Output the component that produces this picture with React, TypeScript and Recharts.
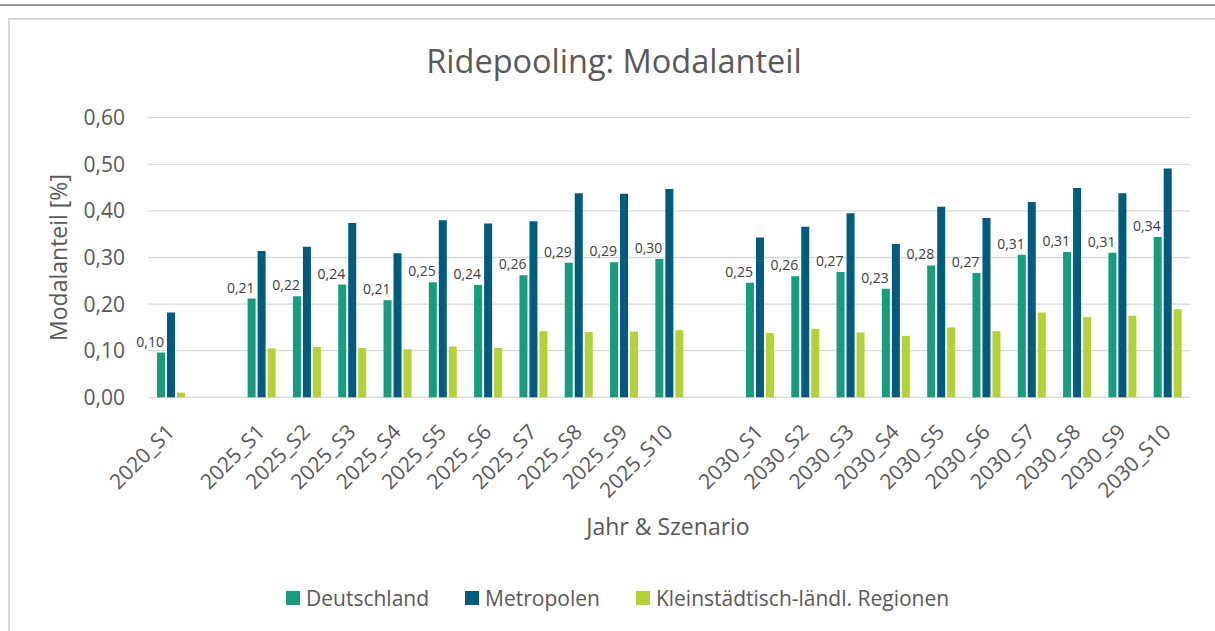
import React from 'react';
import { BarChart, Bar, XAxis, YAxis, CartesianGrid, Legend, LabelList } from 'recharts';

const categories = [
  '2020_S1', ' ',
  '2025_S1', '2025_S2', '2025_S3', '2025_S4', '2025_S5', '2025_S6', '2025_S7', '2025_S8', '2025_S9', '2025_S10',
  '  ',
  '2030_S1', '2030_S2', '2030_S3', '2030_S4', '2030_S5', '2030_S6', '2030_S7', '2030_S8', '2030_S9', '2030_S10',
];
const deutschland = [0.096, null, 0.212, 0.217, 0.242, 0.208, 0.247, 0.241, 0.262, 0.289, 0.290, 0.297, null, 0.246, 0.260, 0.269, 0.233, 0.283, 0.267, 0.306, 0.312, 0.310, 0.344];
const metropolen = [0.182, null, 0.314, 0.323, 0.374, 0.309, 0.380, 0.373, 0.378, 0.438, 0.437, 0.447, null, 0.343, 0.366, 0.395, 0.329, 0.409, 0.385, 0.419, 0.449, 0.438, 0.491];
const kleinstaedtisch = [0.010, null, 0.105, 0.108, 0.106, 0.103, 0.109, 0.106, 0.142, 0.140, 0.141, 0.144, null, 0.138, 0.147, 0.139, 0.132, 0.150, 0.142, 0.182, 0.172, 0.175, 0.189];
const yTicks = [0, 0.1, 0.2, 0.3, 0.4, 0.5, 0.6];
const seriesKeys = ['d', 'm', 'k'];
const seriesNames = ['Deutschland', 'Metropolen', 'Kleinstädtisch-ländl. Regionen'];
const seriesColors = ['#179C7D', '#005B7F', '#B3D237'];
const chartTitle = 'Ridepooling: Modalanteil';
const xTitle = 'Jahr & Szenario';
const yTitle = 'Modalanteil [%]';

const FONT = "'Open Sans', sans-serif";
const TEXT = '#595959';

const data = categories.map((c, i) => ({
  name: c,
  d: deutschland[i],
  m: metropolen[i],
  k: kleinstaedtisch[i],
}));

const fmt = (v: number) => v.toFixed(2).replace('.', ',');

const XTick = (props: any) => {
  const { x, y, payload } = props;
  const v = String(payload.value);
  if (!v.trim()) return <g />;
  return (
    <g transform={`translate(${x + 5},${y + 36})`}>
      <text x={0} y={0} textAnchor="end" transform="rotate(-45)" fontSize={21} fill={TEXT} fontFamily={FONT}>
        {v}
      </text>
    </g>
  );
};

const YTick = (props: any) => {
  const { x, y, payload } = props;
  return (
    <text x={x - 23} y={y} dy={7.5} textAnchor="end" fontSize={21} fill={TEXT} fontFamily={FONT}>
      {fmt(payload.value)}
    </text>
  );
};

const DataLabel = (props: any) => {
  const { x, y, width, value } = props;
  if (value === null || value === undefined) return null;
  return (
    <text x={x + width - 1} y={y - 6} textAnchor="end" fontSize={14} fill="#404040" fontFamily={FONT}>
      {fmt(value)}
    </text>
  );
};

const LegendContent = () => (
  <div
    style={{
      display: 'flex',
      justifyContent: 'flex-start',
      alignItems: 'center',
      gap: 36,
      paddingLeft: 286,
      fontFamily: FONT,
      fontSize: 21,
      color: TEXT,
      height: 28,
    }}
  >
    {seriesNames.map((n, i) => (
      <div key={n} style={{ display: 'flex', alignItems: 'center' }}>
        <span style={{ width: 14, height: 14, background: seriesColors[i], display: 'inline-block', marginRight: 6 }} />
        <span style={{ whiteSpace: 'nowrap', lineHeight: '28px' }}>{n}</span>
      </div>
    ))}
  </div>
);

export default function App() {
  return (
    <div style={{ position: 'absolute', left: 0, top: 0, width: 1215, height: 631, overflow: 'hidden', background: '#fff' }}>
      <div style={{ position: 'absolute', left: 0, top: 4, width: 1215, height: 2, background: '#999999' }} />
      <div
        style={{
          position: 'absolute',
          left: 8,
          top: 18,
          width: 1300,
          height: 700,
          borderLeft: '2px solid #d9d9d9',
          borderTop: '2px solid #d9d9d9',
        }}
      />
      <div style={{ position: 'absolute', left: 0, top: 0 }}>
        <BarChart
          width={1215}
          height={631}
          data={data}
          margin={{ top: 117.7, right: 25, bottom: 133.7, left: 0 }}
          barGap={2}
        >
          <CartesianGrid horizontal vertical={false} stroke="#d9d9d9" strokeWidth={1.3} />
          <XAxis
            dataKey="name"
            height={100}
            interval={0}
            tickLine={false}
            axisLine={false}
            tickSize={0}
            tickMargin={0}
            tick={<XTick />}
          />
          <YAxis
            width={148}
            domain={[0, 0.6]}
            ticks={yTicks}
            tickLine={false}
            axisLine={false}
            tickSize={0}
            tickMargin={0}
            tick={<YTick />}
          />
          <Legend
            layout="horizontal"
            verticalAlign="middle"
            align="center"
            wrapperStyle={{ position: 'absolute', left: 0, top: 584, width: 1215, height: 28 }}
            content={<LegendContent />}
          />
          {seriesKeys.map((k, i) => (
            <Bar key={k} dataKey={k} name={seriesNames[i]} fill={seriesColors[i]} barSize={8} isAnimationActive={false}>
              {k === 'd' ? <LabelList dataKey="d" content={<DataLabel />} /> : null}
            </Bar>
          ))}
        </BarChart>
      </div>
      <svg width={1215} height={631} style={{ position: 'absolute', left: 0, top: 0, pointerEvents: 'none' }}>
        <text x={614} y={73} textAnchor="middle" fontSize={32.5} fill={TEXT} fontFamily={FONT}>
          {chartTitle}
        </text>
        <text x={668} y={535} textAnchor="middle" fontSize={23} fill={TEXT} fontFamily={FONT}>
          {xTitle}
        </text>
        <text x={67} y={257.5} textAnchor="middle" fontSize={23} fill={TEXT} fontFamily={FONT} transform="rotate(-90 67 257.5)">
          {yTitle}
        </text>
      </svg>
    </div>
  );
}
